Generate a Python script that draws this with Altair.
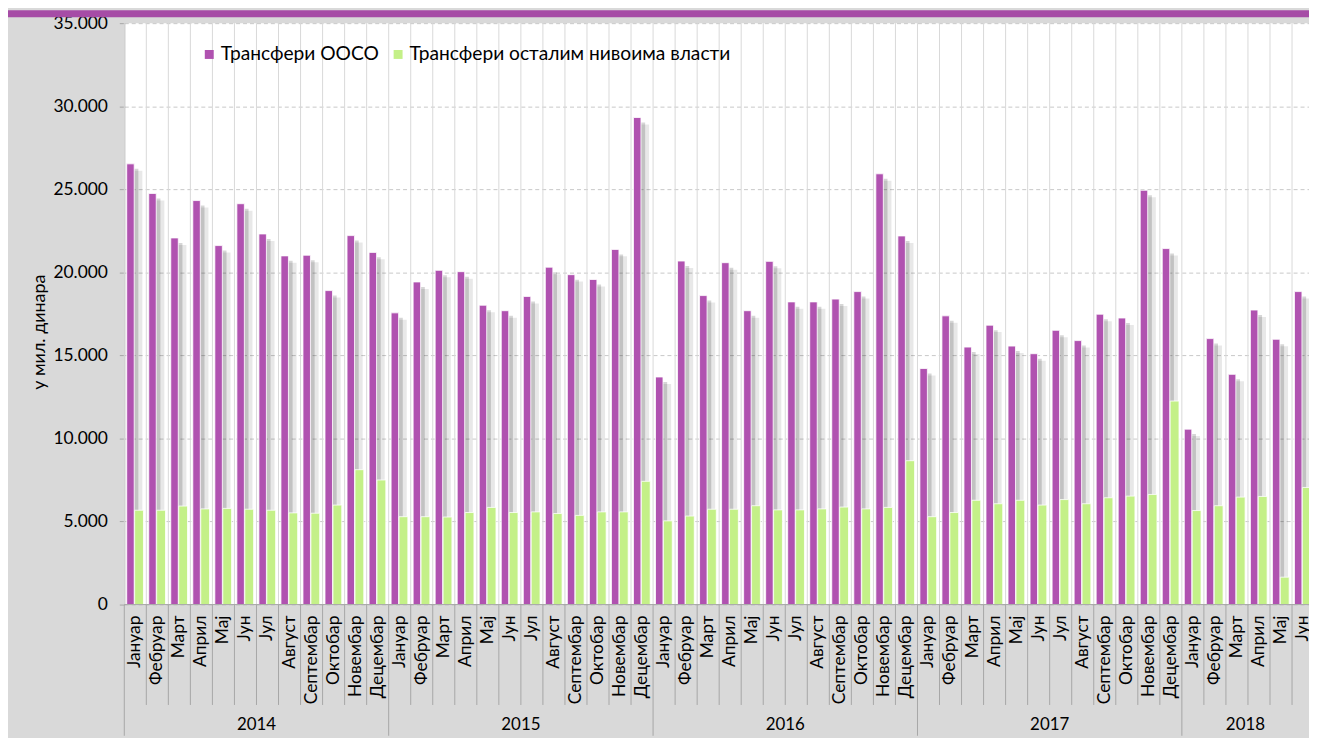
import altair as alt
import pandas as pd

# ---- data (мил. динара) ----
months = ["Јануар", "Фебруар", "Март", "Април", "Мај", "Јун", "Јул", "Август",
          "Септембар", "Октобар", "Новембар", "Децембар"]
years = [2014, 2015, 2016, 2017, 2018]
months_per_year = [12, 12, 12, 12, 6]

ooso_2014 = [26530, 24750, 22070, 24320, 21610, 24130, 22310, 20990, 21030, 18900, 22210, 21200]
ooso_2015 = [17560, 19420, 20120, 20040, 18020, 17690, 18550, 20310, 19860, 19570, 21380, 29320]
ooso_2016 = [13700, 20680, 18600, 20580, 17690, 20660, 18220, 18220, 18390, 18840, 25930, 22190]
ooso_2017 = [14210, 17380, 15500, 16820, 15560, 15100, 16510, 15890, 17480, 17250, 24940, 21430]
ooso_2018 = [10560, 16010, 13860, 17730, 15970, 18840]

other_2014 = [5680, 5680, 5930, 5760, 5790, 5740, 5680, 5520, 5500, 5990, 8120, 7500]
other_2015 = [5290, 5290, 5270, 5540, 5850, 5540, 5580, 5480, 5370, 5580, 5580, 7420]
other_2016 = [5040, 5330, 5740, 5740, 5950, 5700, 5700, 5760, 5870, 5760, 5850, 8660]
other_2017 = [5290, 5540, 6280, 6070, 6280, 5990, 6320, 6070, 6430, 6530, 6630, 12250]
other_2018 = [5660, 5950, 6470, 6510, 1650, 7050]

series_names = ["Трансфери ООСО", "Трансфери осталим нивоима власти"]
y_title = "у мил. динара"
y_ticks = [0, 5000, 10000, 15000, 20000, 25000, 30000, 35000]

# ---- layout ----
W, H = 1192, 585
D = 53.77  # visible months on the x axis (last month is cut at the right edge)
PURPLE = "#B052B0"
GREEN = "#C4F088"
FONT = "Lato"

ooso = ooso_2014 + ooso_2015 + ooso_2016 + ooso_2017 + ooso_2018
other = other_2014 + other_2015 + other_2016 + other_2017 + other_2018
n = len(ooso)
month_labels = [months[i % 12] for i in range(n)]

df = pd.DataFrame({"i": list(range(n)), "ooso": ooso, "other": other, "month": month_labels})

starts = [sum(months_per_year[:k]) for k in range(len(years))]
year_df = pd.DataFrame({
    "year": [str(y) for y in years],
    "start": starts,
    "center": [(s + min(s + c, D)) / 2 for s, c in zip(starts, months_per_year)],
})
bounds_df = pd.DataFrame({"b": list(range(0, n + 1))})
bounds_df["isyear"] = bounds_df["b"].isin(starts)

xs = alt.Scale(domain=[0, D], nice=False, zero=False)
ys = alt.Scale(domain=[0, 35000], nice=False)

base = alt.Chart(df).transform_calculate(
    p0="datum.i + 0.11", p1="datum.i + 0.45",
    g0="datum.i + 0.47", g1="datum.i + 0.87",
    s0="datum.i + 0.45", s1="datum.i + 0.82",
    s2="datum.i + 0.45", s3="datum.i + 0.64",
    xc="datum.i + 0.5",
)

vgrid = alt.Chart(bounds_df).mark_rule(color="#d9d9d9", strokeWidth=1).encode(
    x=alt.X("b:Q", scale=xs, axis=None), y=alt.value(0), y2=alt.value(H)
)

shadow1 = base.mark_rect(color="#000000", opacity=0.09, yOffset=7).encode(
    x=alt.X("s0:Q", scale=xs, axis=None), x2="s1:Q",
    y=alt.Y("ooso:Q", scale=ys), y2=alt.datum(0)
)
shadow2 = base.mark_rect(color="#000000", opacity=0.16, yOffset=5).encode(
    x=alt.X("s2:Q", scale=xs, axis=None), x2="s3:Q",
    y=alt.Y("ooso:Q", scale=ys), y2=alt.datum(0)
)

bars1 = base.mark_rect(color=PURPLE, stroke="white", strokeWidth=0.8).encode(
    x=alt.X("p0:Q", scale=xs, axis=None), x2="p1:Q",
    y=alt.Y("ooso:Q", scale=ys, axis=alt.Axis(
        values=y_ticks, title=None,
        labelExpr="replace(format(datum.value, ','), ',', '.')",
        labelFont=FONT, labelFontSize=17.5, labelColor="#000000", labelPadding=12,
        tickSize=5, tickColor="#a6a6a6", domainColor="#a6a6a6",
        grid=True, gridColor="#c8c8c8", gridDash=[4, 3],
    )),
    y2=alt.datum(0),
)
bars2 = base.mark_rect(color=GREEN, stroke="white", strokeWidth=0.8).encode(
    x=alt.X("g0:Q", scale=xs, axis=None), x2="g1:Q",
    y=alt.Y("other:Q", scale=ys), y2=alt.datum(0)
)

baseline = alt.Chart(pd.DataFrame({"z": [0]})).mark_rule(color="#a6a6a6").encode(
    x=alt.value(0), x2=alt.value(W), y=alt.value(H)
)

month_sep = alt.Chart(bounds_df).transform_filter("!datum.isyear").mark_rule(color="#a6a6a6").encode(
    x=alt.X("b:Q", scale=xs, axis=None), y=alt.value(H), y2=alt.value(H + 101)
)
year_sep = alt.Chart(bounds_df).transform_filter("datum.isyear").mark_rule(color="#a6a6a6").encode(
    x=alt.X("b:Q", scale=xs, axis=None), y=alt.value(H), y2=alt.value(H + 132)
)

month_text = base.mark_text(angle=270, align="right", baseline="middle",
                            font=FONT, fontSize=17.5, color="#000000").encode(
    x=alt.X("xc:Q", scale=xs, axis=None), y=alt.value(H + 11), text="month:N"
)
year_text = alt.Chart(year_df).mark_text(align="center", baseline="middle",
                                         font=FONT, fontSize=17, color="#000000").encode(
    x=alt.X("center:Q", scale=xs, axis=None), y=alt.value(H + 121), text="year:N"
)

one = pd.DataFrame({"z": [0]})
band = alt.Chart(one).mark_rect(color="#A64CA6").encode(
    x=alt.value(-117), x2=alt.value(W), y=alt.value(-13), y2=alt.value(-6)
)

ytitle = alt.Chart(one).mark_text(angle=270, align="center", baseline="middle",
                                  font=FONT, fontSize=18, color="#000000").encode(
    x=alt.value(-85), y=alt.value(311), text=alt.value(y_title)
)

leg_sq1 = alt.Chart(one).mark_rect(color=PURPLE).encode(
    x=alt.value(81), x2=alt.value(90), y=alt.value(27), y2=alt.value(36))
leg_tx1 = alt.Chart(one).mark_text(align="left", baseline="middle", font=FONT, fontSize=19.3,
                                   color="#000000").encode(
    x=alt.value(97), y=alt.value(31), text=alt.value(series_names[0]))
leg_sq2 = alt.Chart(one).mark_rect(color=GREEN).encode(
    x=alt.value(271), x2=alt.value(280), y=alt.value(27), y2=alt.value(36))
leg_tx2 = alt.Chart(one).mark_text(align="left", baseline="middle", font=FONT, fontSize=19.3,
                                   color="#000000").encode(
    x=alt.value(287), y=alt.value(31), text=alt.value(series_names[1]))

chart = alt.layer(
    vgrid, shadow1, shadow2, bars1, bars2, baseline,
    month_sep, year_sep, month_text, year_text, band, ytitle,
    leg_sq1, leg_tx1, leg_sq2, leg_tx2,
).properties(
    width=W, height=H,
    autosize="none",
    padding={"left": 117, "top": 13, "right": 0, "bottom": 132},
    background="#d9d9d9",
).configure_view(fill="white", stroke=None)

chart.save("out.html", embed_options={"renderer": "svg", "actions": False})
